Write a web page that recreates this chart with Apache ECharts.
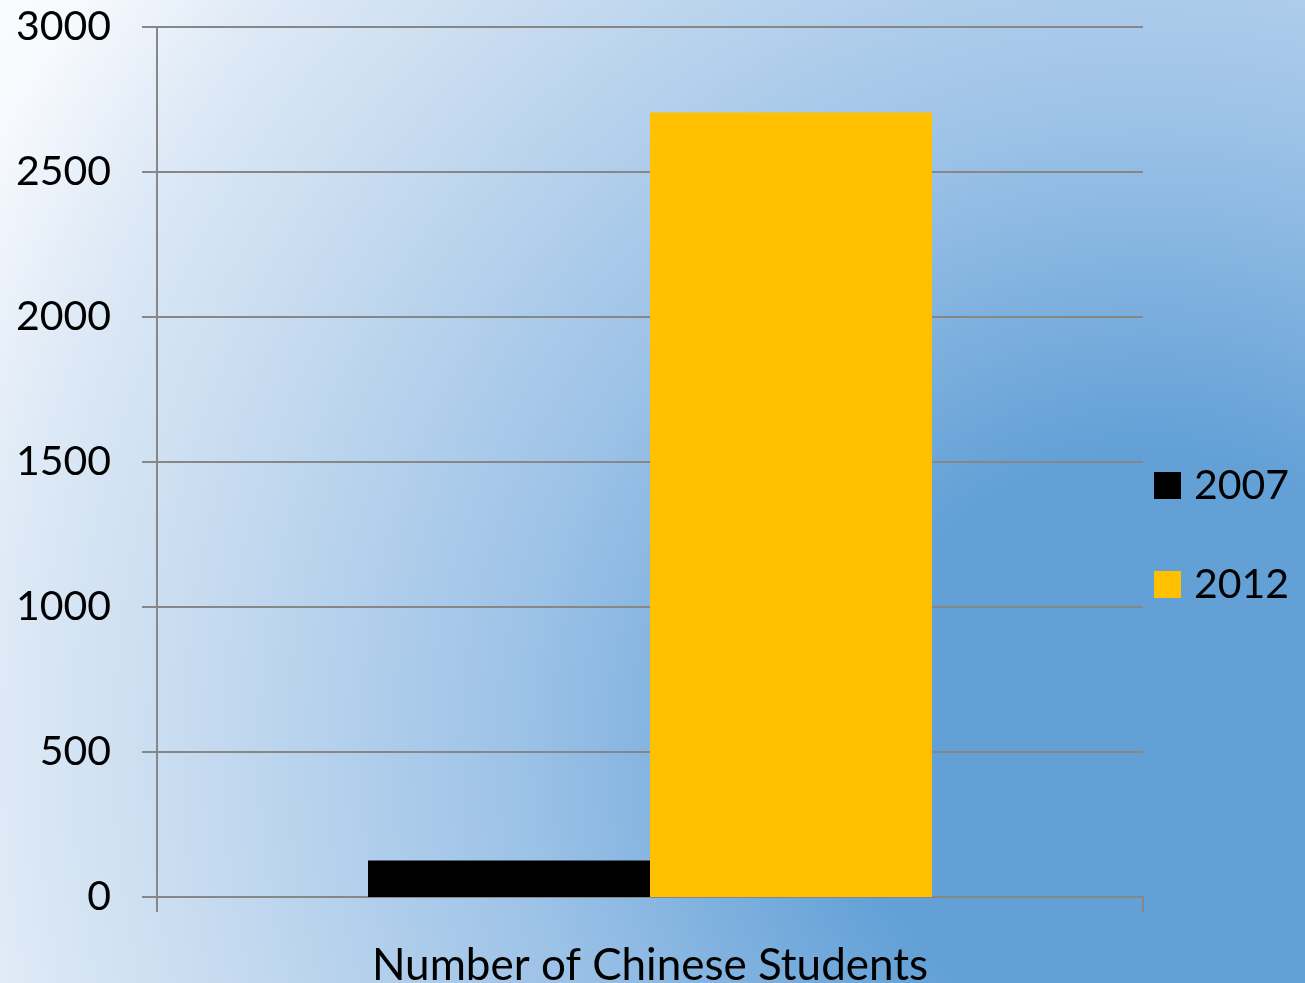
<!DOCTYPE html>
<html>
<head>
<meta charset="utf-8">
<script src="https://cdn.jsdelivr.net/npm/echarts@6/dist/echarts.min.js"></script>
<style>
  html, body { margin: 0; padding: 0; }
  #chart {
    width: 1305px;
    height: 983px;
    background: radial-gradient(circle 1400px at 1150px 750px,
      #62a0d6 0px, #62a0d6 300px, #9cc2e7 630px, #c8dcf0 970px, #dde9f6 1150px, #f6f9fd 1300px, #fbfcfe 1400px);
  }
</style>
</head>
<body>
<div id="chart"></div>
<script>
// Chinese student numbers, 2007 vs 2012
const categories = ['Number of Chinese Students'];
const seriesNames = ['2007', '2012'];
const values2007 = [126];
const values2012 = [2705];
const yTicks = { min: 0, max: 3000, interval: 500 };

const FONT = 'Lato';
const axisGray = '#878787';

const chart = echarts.init(document.getElementById('chart'), null, { renderer: 'canvas' });

chart.setOption({
  backgroundColor: 'transparent',
  animation: false,
  textStyle: { fontFamily: FONT, color: '#000' },
  grid: { left: 157, right: 162, top: 27, bottom: 86, containLabel: false, outerBoundsMode: 'none' },
  legend: {
    orient: 'vertical',
    left: 1154,
    top: 465,
    padding: 0,
    icon: 'rect',
    itemWidth: 27,
    itemHeight: 27,
    itemGap: 58,
    data: seriesNames,
    textStyle: { fontFamily: FONT, fontSize: 41, color: '#000', lineHeight: 41, padding: [0, 0, 0, 8] }
  },
  xAxis: {
    type: 'category',
    data: categories,
    axisLine: { lineStyle: { color: axisGray, width: 2 } },
    axisTick: { show: true, length: 15, lineStyle: { color: axisGray, width: 2 } },
    axisLabel: { fontFamily: FONT, fontSize: 44, color: '#000', margin: 47 }
  },
  yAxis: {
    type: 'value',
    min: yTicks.min,
    max: yTicks.max,
    interval: yTicks.interval,
    axisLine: { show: true, lineStyle: { color: axisGray, width: 2 } },
    axisTick: { show: true, length: 15, lineStyle: { color: axisGray, width: 2 } },
    axisLabel: { fontFamily: FONT, fontSize: 41, color: '#000', margin: 46, formatter: v => String(v) },
    splitLine: { show: true, lineStyle: { color: axisGray, width: 2 } }
  },
  series: [
    {
      name: seriesNames[0],
      type: 'bar',
      data: values2007,
      itemStyle: { color: '#000000' },
      barGap: '0%',
      barCategoryGap: '42.8%'
    },
    {
      name: seriesNames[1],
      type: 'bar',
      data: values2012,
      itemStyle: { color: '#ffc000' },
      barGap: '0%',
      barCategoryGap: '42.8%'
    }
  ]
});
</script>
</body>
</html>
